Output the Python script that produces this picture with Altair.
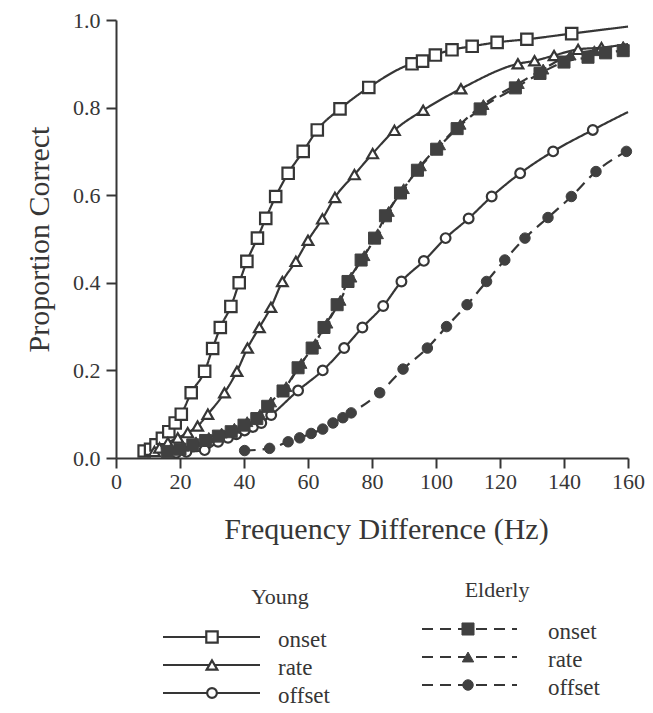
import altair as alt
import pandas as pd

# ---------------- data ----------------
young_onset_hz = [8.8, 10.8, 12.5, 14.5, 16.5, 18.5, 20.4, 23.5, 27.7, 30.2, 32.6, 35.9, 38.5, 40.9,
                  44.2, 46.8, 49.9, 53.8, 58.5, 62.9, 70.0, 79.0, 92.5, 95.8, 99.8, 105.0, 111.3,
                  119.1, 128.4, 142.4]
young_onset_p = [0.016, 0.02, 0.03, 0.045, 0.06, 0.08, 0.10, 0.149, 0.198, 0.25, 0.298, 0.346, 0.40,
                 0.449, 0.502, 0.547, 0.597, 0.65, 0.70, 0.749, 0.797, 0.846, 0.90, 0.906, 0.92,
                 0.932, 0.94, 0.949, 0.956, 0.969]
young_onset_end = (160.0, 0.985)

young_rate_hz = [12.0, 13.6, 16.2, 19.3, 22.4, 25.5, 28.7, 33.9, 37.8, 41.1, 44.8, 48.4, 52.0, 56.2,
                 60.0, 64.5, 68.4, 74.5, 80.2, 87.0, 96.0, 107.8, 125.6, 130.8, 136.9, 144.4, 151.7]
young_rate_p = [0.015, 0.023, 0.035, 0.046, 0.058, 0.073, 0.10, 0.149, 0.198, 0.251, 0.298, 0.344,
                0.403, 0.449, 0.497, 0.546, 0.595, 0.647, 0.695, 0.748, 0.794, 0.843, 0.90, 0.907,
                0.919, 0.933, 0.937]
young_rate_end = (160.0, 0.945)

young_offset_hz = [18.8, 22.0, 27.7, 31.9, 35.0, 37.6, 40.2, 42.8, 45.4, 48.5, 56.9, 64.6, 71.3,
                   77.0, 83.5, 89.2, 96.2, 103.0, 110.2, 117.4, 126.3, 136.6, 149.0]
young_offset_p = [0.012, 0.014, 0.018, 0.037, 0.046, 0.054, 0.063, 0.071, 0.080, 0.098, 0.154,
                  0.20, 0.251, 0.298, 0.347, 0.403, 0.45, 0.502, 0.547, 0.597, 0.65, 0.70, 0.749]
young_offset_end = (160.0, 0.79)

elderly_onset_hz = [16.0, 20.0, 24.0, 28.0, 32.0, 36.0, 40.0, 44.0, 47.4, 52.2, 56.9, 61.3, 65.0,
                    69.1, 72.5, 76.6, 80.8, 84.2, 88.9, 94.2, 100.2, 106.6, 113.8, 124.8, 132.5,
                    140.0, 147.5, 153.0, 158.5]
elderly_onset_p = [0.015, 0.02, 0.03, 0.04, 0.05, 0.06, 0.075, 0.09, 0.118, 0.153, 0.206, 0.251,
                   0.298, 0.35, 0.403, 0.452, 0.502, 0.553, 0.605, 0.657, 0.705, 0.752, 0.797,
                   0.845, 0.878, 0.904, 0.915, 0.925, 0.93]

elderly_rate_hz = [17.0, 21.0, 25.0, 29.0, 33.0, 37.0, 41.0, 45.0, 48.4, 53.2, 57.9, 62.3, 66.0,
                   70.1, 73.5, 77.6, 81.8, 85.2, 89.9, 95.2, 101.2, 107.6, 114.8, 125.8, 133.5,
                   142.0, 149.5, 158.5]
elderly_rate_p = [0.02, 0.027, 0.037, 0.047, 0.057, 0.068, 0.083, 0.10, 0.128, 0.163, 0.216, 0.261,
                  0.308, 0.36, 0.413, 0.462, 0.512, 0.563, 0.615, 0.667, 0.715, 0.762, 0.807,
                  0.855, 0.888, 0.92, 0.93, 0.94]

elderly_offset_hz = [40.2, 48.0, 53.8, 57.4, 61.0, 64.6, 67.8, 70.9, 73.5, 82.4, 89.7, 97.3, 103.3,
                     109.7, 115.8, 121.5, 127.8, 135.0, 142.3, 150.0, 159.5]
elderly_offset_p = [0.017, 0.022, 0.037, 0.046, 0.056, 0.066, 0.080, 0.092, 0.103, 0.149, 0.203,
                    0.251, 0.30, 0.35, 0.403, 0.452, 0.502, 0.549, 0.597, 0.654, 0.70]

x_ticks = [0, 20, 40, 60, 80, 100, 120, 140, 160]
y_ticks = [0.0, 0.2, 0.4, 0.6, 0.8, 1.0]
groups = ["Young", "Elderly"]
kinds = ["onset", "rate", "offset"]

series = {
    ("Young", "onset"): (young_onset_hz, young_onset_p, young_onset_end),
    ("Young", "rate"): (young_rate_hz, young_rate_p, young_rate_end),
    ("Young", "offset"): (young_offset_hz, young_offset_p, young_offset_end),
    ("Elderly", "rate"): (elderly_rate_hz, elderly_rate_p, None),
    ("Elderly", "onset"): (elderly_onset_hz, elderly_onset_p, None),
    ("Elderly", "offset"): (elderly_offset_hz, elderly_offset_p, None),
}

# ---------------- styles ----------------
INK = "#363636"
FONT = "Liberation Serif"
shape_of = {"onset": "square", "rate": "triangle-up", "offset": "circle"}
size_of = {"onset": 130, "rate": 115, "offset": 95}
dash_of = {"Young": [1, 0], "Elderly": [11, 7]}

x_enc = alt.X("hz:Q", scale=alt.Scale(domain=[0, 160], nice=False),
              axis=alt.Axis(values=x_ticks, title="Frequency Difference (Hz)", grid=False,
                            tickSize=10, tickWidth=2, domainWidth=2, domainColor=INK,
                            tickColor=INK, labelColor=INK, titleColor=INK,
                            labelFont=FONT, titleFont=FONT, labelFontSize=22,
                            titleFontSize=30, titleFontWeight="normal", labelPadding=3,
                            titlePadding=22, labelFlush=False, titleX=270))
y_enc = alt.Y("p:Q", scale=alt.Scale(domain=[0, 1], nice=False),
              axis=alt.Axis(values=y_ticks, format=".1f", title="Proportion Correct", grid=False,
                            tickSize=10, tickWidth=2, domainWidth=2, domainColor=INK,
                            tickColor=INK, labelColor=INK, titleColor=INK,
                            labelFont=FONT, titleFont=FONT, labelFontSize=22,
                            titleFontSize=30, titleFontWeight="normal", labelPadding=6,
                            titlePadding=18, labelFlush=False))


def point_mark(group, kind):
    if group == "Young":
        return dict(shape=shape_of[kind], size=size_of[kind], filled=True, fill="white",
                    stroke=INK, strokeWidth=2.2, opacity=1)
    return dict(shape=shape_of[kind], size=size_of[kind] + 15, filled=True, fill="#404040",
                stroke="#404040", strokeWidth=1, opacity=1)


layers = []
for (group, kind), (hz, p, end) in series.items():
    pts = pd.DataFrame({"hz": hz, "p": p})
    line_df = pts.copy()
    if end is not None:
        line_df = pd.concat([line_df, pd.DataFrame({"hz": [end[0]], "p": [end[1]]})],
                            ignore_index=True)
    layers.append(alt.Chart(line_df).mark_line(color=INK, strokeWidth=2.2, interpolate="monotone",
                                               strokeDash=dash_of[group]).encode(x=x_enc, y=y_enc))
for (group, kind), (hz, p, end) in series.items():
    pts = pd.DataFrame({"hz": hz, "p": p})
    layers.append(alt.Chart(pts).mark_point(**point_mark(group, kind)).encode(x=x_enc, y=y_enc))

# ---------------- legend (drawn below the plot) ----------------
legend_pos = {
    "Young": dict(x1=47, x2=144, xm=96, xt=162, y0=617, title_x=164, title_y=577),
    "Elderly": dict(x1=306, x2=401, xm=352, xt=432, y0=609, title_x=381, title_y=570),
}
row_step = 28
for group in groups:
    lp = legend_pos[group]
    layers.append(alt.Chart(pd.DataFrame({"t": [group]})).mark_text(
        font=FONT, fontSize=22, color=INK, align="center", baseline="middle").encode(
        x=alt.value(lp["title_x"]), y=alt.value(lp["title_y"]), text="t:N"))
    for i, kind in enumerate(kinds):
        yy = lp["y0"] + i * row_step
        one = pd.DataFrame({"t": [kind]})
        layers.append(alt.Chart(one).mark_rule(color=INK, strokeWidth=2.2,
                                               strokeDash=dash_of[group]).encode(
            x=alt.value(lp["x1"]), x2=alt.value(lp["x2"]), y=alt.value(yy)))
        layers.append(alt.Chart(one).mark_point(**point_mark(group, kind)).encode(
            x=alt.value(lp["xm"]), y=alt.value(yy)))
        layers.append(alt.Chart(one).mark_text(font=FONT, fontSize=23, color=INK, align="left",
                                               baseline="middle").encode(
            x=alt.value(lp["xt"]), y=alt.value(yy + 3), text="t:N"))

chart = alt.layer(*layers).properties(
    width=512, height=438,
    autosize=alt.AutoSizeParams(type="none"),
    padding={"left": 108, "top": 12, "right": 17, "bottom": 253},
).configure_view(stroke=None)

chart.save("out.html", embed_options={"renderer": "svg", "actions": False})
